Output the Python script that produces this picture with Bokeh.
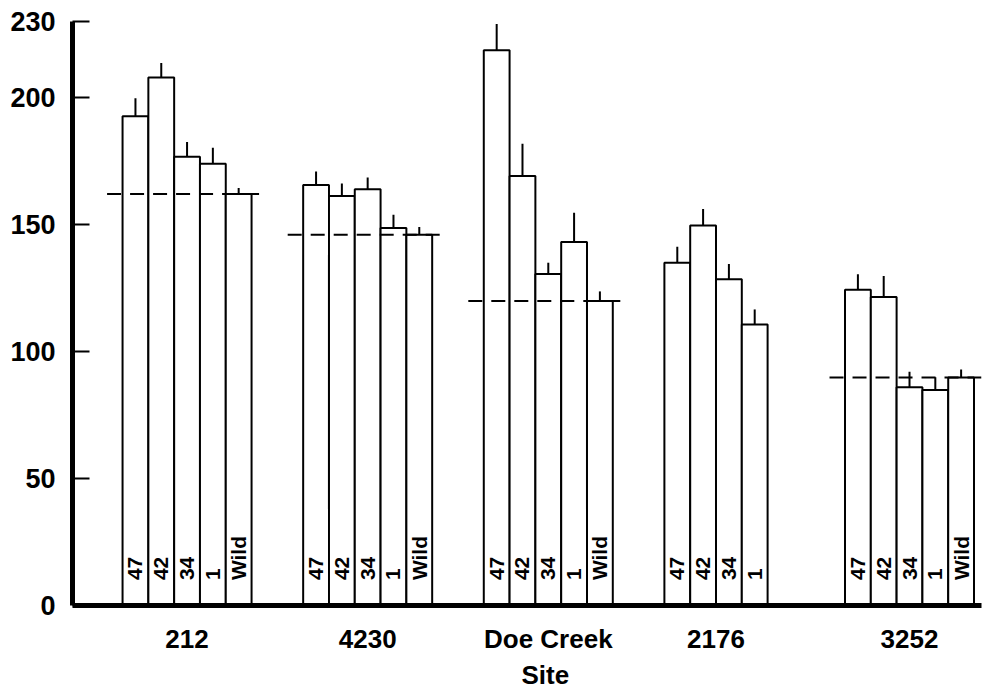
import math
from bokeh.plotting import figure
from bokeh.models import FixedTicker, ColumnDataSource, Title, Range1d
from bokeh.core.properties import value
from bokeh.embed import file_html
from bokeh.resources import INLINE

# ---- data ----
sites = ["212", "4230", "Doe Creek", "2176", "3252"]

strains_212 = ["47", "42", "34", "1", "Wild"]
means_212 = [192.7, 207.9, 176.7, 174.0, 162.1]
errs_212 = [7.1, 5.8, 5.8, 6.3, 2.3]

strains_4230 = ["47", "42", "34", "1", "Wild"]
means_4230 = [165.6, 161.3, 163.9, 148.7, 146.0]
errs_4230 = [5.3, 4.9, 4.7, 5.2, 3.1]

strains_doe = ["47", "42", "34", "1", "Wild"]
means_doe = [218.7, 169.2, 130.6, 143.2, 119.9]
errs_doe = [10.3, 12.7, 4.4, 11.5, 3.8]

strains_2176 = ["47", "42", "34", "1"]
means_2176 = [135.0, 149.7, 128.5, 110.7]
errs_2176 = [6.3, 6.5, 6.0, 5.9]

strains_3252 = ["47", "42", "34", "1", "Wild"]
means_3252 = [124.4, 121.5, 86.0, 84.9, 89.8]
errs_3252 = [6.1, 8.3, 6.1, 5.0, 3.1]

y_ticks = [0, 50, 100, 150, 200, 230]

groups = [
    (strains_212, means_212, errs_212),
    (strains_4230, means_4230, errs_4230),
    (strains_doe, means_doe, errs_doe),
    (strains_2176, means_2176, errs_2176),
    (strains_3252, means_3252, errs_3252),
]

GROUP_STEP = 7
FONT = "Liberation Sans"

xs, tops, err_tops, labels = [], [], [], []
centers = []
dash_x0, dash_x1, dash_y = [], [], []
for g, (strs, means, errs) in enumerate(groups):
    start = GROUP_STEP * g
    n = len(strs)
    centers.append(start + n / 2)
    for i, (s, m, e) in enumerate(zip(strs, means, errs)):
        xs.append(start + i + 0.5)
        tops.append(m)
        err_tops.append(m + e)
        labels.append(s)
    if "Wild" in strs:
        wild = means[strs.index("Wild")]
        dash_x0.append(start - 0.6)
        dash_x1.append(start + n + 0.6)
        dash_y.append(wild)

src = ColumnDataSource(dict(x=xs, top=tops, etop=err_tops, label=labels,
                            ly=[10] * len(xs)))
dsrc = ColumnDataSource(dict(x0=dash_x0, x1=dash_x1, y=dash_y))

p = figure(width=986, height=690,
           x_range=Range1d(-1.94, 33.29), y_range=Range1d(0, 230),
           output_backend="svg", toolbar_location=None,
           min_border_left=72, min_border_right=5,
           min_border_top=21, min_border_bottom=78)
p.background_fill_color = "white"
p.border_fill_color = "white"
p.outline_line_color = None
p.grid.visible = False

p.vbar(x="x", top="top", bottom=0, width=1, source=src,
       fill_color="white", line_color="black", line_width=2)
p.segment(x0="x", y0="top", x1="x", y1="etop", source=src,
          line_color="black", line_width=2)
p.segment(x0="x0", y0="y", x1="x1", y1="y", source=dsrc,
          line_color="black", line_width=2, line_dash="14 9")
p.text(x="x", y="ly", text="label", source=src, angle=math.pi / 2,
       text_align="left", text_baseline="middle",
       text_font=value(FONT), text_font_size="21px",
       text_font_style="bold", text_color="black")

# y axis
p.yaxis.ticker = FixedTicker(ticks=y_ticks)
p.yaxis.major_tick_in = 17
p.yaxis.major_tick_out = 0
p.yaxis.major_tick_line_width = 2
p.yaxis.minor_tick_line_color = None
p.yaxis.axis_line_width = 5
p.yaxis.major_label_standoff = 17
p.yaxis.major_label_text_font = FONT
p.yaxis.major_label_text_font_size = "27px"
p.yaxis.major_label_text_font_style = "bold"
p.yaxis.major_label_text_color = "black"

# x axis
p.xaxis.ticker = FixedTicker(ticks=centers)
p.xaxis.major_label_overrides = {c: s for c, s in zip(centers, sites)}
p.xaxis.major_tick_line_color = None
p.xaxis.minor_tick_line_color = None
p.xaxis.axis_line_width = 5
p.xaxis.major_label_standoff = 12
p.xaxis.major_label_text_font = FONT
p.xaxis.major_label_text_font_size = "26px"
p.xaxis.major_label_text_font_style = "bold"
p.xaxis.major_label_text_color = "black"

p.add_layout(Title(text="Site", align="left", offset=449, standoff=2,
                   text_font=FONT, text_font_size="26px",
                   text_font_style="bold", text_color="black"), "below")

open("out.html", "w").write(file_html(p, INLINE))
